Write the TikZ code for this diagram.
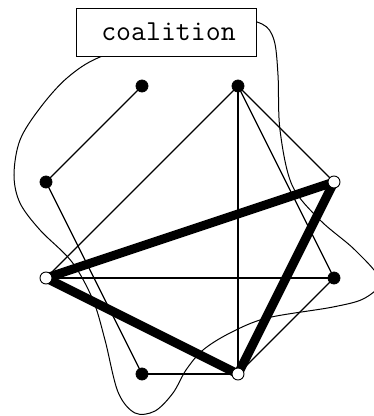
\documentclass[tikz,border=0pt]{standalone}
\usepackage{fontspec}
\begin{document}
\begin{tikzpicture}[x=1pt,y=-1pt,
  thin edge/.style={line width=1.2pt},
  thick edge/.style={line width=9pt},
  solid vertex/.style={circle,fill=black,draw=black,line width=0.8pt,minimum size=12pt,inner sep=0pt},
  open vertex/.style={circle,fill=white,draw=black,line width=0.9pt,minimum size=12pt,inner sep=0pt},
  label box/.style={draw=black,fill=white,line width=1pt,minimum width=180pt,minimum height=48pt,inner sep=0pt,font=\ttfamily\fontsize{29}{32}\selectfont}]
\useasboundingbox (0,0) rectangle (374,416);
% coalition outline
\draw[line width=1pt] plot[smooth cycle,tension=0.55] coordinates {
 (230,20) (262,24) (274,40) (278,75) (280,130) (292,185) (320,220) (355,250) (380,280)
 (365,298) (333,307) (267,318) (230,333) (203,350) (186,370) (173,393) (155,411) (135,413)
 (118,392) (105,340) (93,300) (72,262) (40,230) (20,203) (14,175) (20,140) (40,108) (67,78)
 (100,57) (160,40)};
\node[label box] (lbl) at (166,32) {\hspace*{5pt}coalition};
% vertices
\coordinate (pa) at (142,86);
\coordinate (pb) at (238,86);
\coordinate (pc) at (46,182);
\coordinate (pd) at (334,182);
\coordinate (pe) at (46,278);
\coordinate (pf) at (334,278);
\coordinate (pg) at (142,374);
\coordinate (ph) at (238,374);
% thin edges
\draw[thin edge] (pa) -- (pc);
\draw[thin edge] (pc) -- (pg);
\draw[thin edge] (pb) -- (pe);
\draw[thin edge] (pb) -- (ph);
\draw[thin edge] (pb) -- (pd);
\draw[thin edge] (pb) -- (pf);
\draw[thin edge] (pe) -- (pf);
\draw[thin edge] (pf) -- (ph);
\draw[thin edge] (pg) -- (ph);
% thick edges
\draw[thick edge] (pe) -- (pd);
\draw[thick edge] (pe) -- (ph);
\draw[thick edge] (pd) -- (ph);
% nodes
\node[solid vertex] (a) at (pa) {};
\node[solid vertex] (b) at (pb) {};
\node[solid vertex] (c) at (pc) {};
\node[open vertex] (d) at (pd) {};
\node[open vertex] (e) at (pe) {};
\node[solid vertex] (f) at (pf) {};
\node[solid vertex] (g) at (pg) {};
\node[open vertex] (h) at (ph) {};
\end{tikzpicture}
\end{document}
